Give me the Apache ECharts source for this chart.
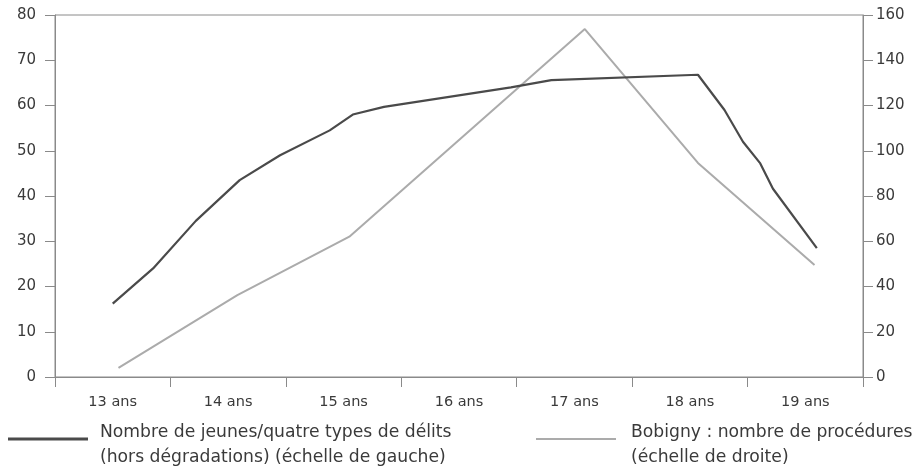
<!DOCTYPE html>
<html>
<head>
<meta charset="utf-8">
<script src="https://cdn.jsdelivr.net/npm/echarts@6/dist/echarts.min.js"></script>
<style>
html,body{margin:0;padding:0;background:#fff;}
#c{width:921px;height:467px;}
</style>
</head>
<body>
<div id="c"></div>
<script>
// Category labels
var categories = ['13 ans', '14 ans', '15 ans', '16 ans', '17 ans', '18 ans', '19 ans'];
// Left axis ticks (0..80) and right axis ticks (0..160)
var leftTicks = [0, 10, 20, 30, 40, 50, 60, 70, 80];
var rightTicks = [0, 20, 40, 60, 80, 100, 120, 140, 160];

// Series 1: Nombre de jeunes (left scale) — age position, value
var delitsAge = [13.00, 13.35, 13.72, 14.10, 14.45, 14.88, 15.08, 15.35, 16.45, 16.80, 18.07, 18.30, 18.46, 18.61, 18.72, 19.10];
var delitsVal = [16.2, 24.0, 34.5, 43.5, 49.0, 54.5, 58.0, 59.7, 64.0, 65.6, 66.8, 59.0, 52.0, 47.2, 41.6, 28.5];

// Series 2: Bobigny procédures (right scale)
var bobignyAge = [13.05, 14.08, 15.05, 17.09, 18.07, 19.08];
var bobignyVal = [4.0, 36.2, 62.0, 153.8, 94.6, 49.5];

var legendNames = ['Nombre de jeunes', 'Bobigny'];
var legendLines = {
  'Nombre de jeunes': ['Nombre de jeunes/quatre types de délits', '(hors dégradations) (échelle de gauche)'],
  'Bobigny': ['Bobigny : nombre de procédures', '(échelle de droite)']
};

function pairs(xs, ys) { return xs.map(function (x, i) { return [x, ys[i]]; }); }

var txt = '#3a3a3a';
var axisCol = '#8a8a8a';
var font = 'DejaVu Sans';

function legendFmt(name) {
  var l = legendLines[name];
  return '{e| }\n{t|' + l[0] + '}\n{t|' + l[1] + '}';
}
var legendRich = {
  e: {lineHeight: 13, fontSize: 2},
  t: {lineHeight: 25, fontSize: 17.2, fontFamily: font, color: txt}
};

var chart = echarts.init(document.getElementById('c'), null, {renderer: 'canvas'});
chart.setOption({
  animation: false,
  backgroundColor: '#fff',
  grid: {left: 55, right: 58, top: 15, bottom: 90, show: true, borderColor: axisCol, borderWidth: 1, backgroundColor: 'transparent'},
  xAxis: [
    {
      type: 'category', data: categories, boundaryGap: true, position: 'bottom',
      axisLine: {lineStyle: {color: axisCol, width: 1}},
      axisTick: {show: true, length: 10, alignWithLabel: false, interval: 0, lineStyle: {color: axisCol}},
      axisLabel: {color: txt, fontFamily: font, fontSize: 14.5, margin: 18, interval: 0},
      splitLine: {show: false}
    },
    {
      type: 'value', min: 12.5, max: 19.5, show: false
    }
  ],
  yAxis: [
    {
      type: 'value', position: 'left', min: 0, max: 80, interval: 10,
      axisLine: {show: true, lineStyle: {color: axisCol}},
      axisTick: {show: true, length: 10, lineStyle: {color: axisCol}},
      axisLabel: {color: txt, fontFamily: font, fontSize: 15, margin: 19,
        formatter: function (v) { return leftTicks.indexOf(v) >= 0 ? String(v) : ''; }},
      splitLine: {show: false}
    },
    {
      type: 'value', position: 'right', min: 0, max: 160, interval: 20,
      axisLine: {show: true, lineStyle: {color: axisCol}},
      axisTick: {show: true, length: 10, lineStyle: {color: axisCol}},
      axisLabel: {color: txt, fontFamily: font, fontSize: 15, margin: 13,
        formatter: function (v) { return rightTicks.indexOf(v) >= 0 ? String(v) : ''; }},
      splitLine: {show: false}
    }
  ],
  legend: [
    {
      data: [{name: legendNames[0], icon: 'rect'}],
      left: 8, top: 413, padding: 0,
      itemWidth: 80, itemHeight: 3,
      formatter: legendFmt,
      textStyle: {color: txt, fontFamily: font, fontSize: 17.2, padding: [0, 0, 0, 7], rich: legendRich}
    },
    {
      data: [{name: legendNames[1], icon: 'rect'}],
      left: 536, top: 413, padding: 0,
      itemWidth: 80, itemHeight: 2,
      formatter: legendFmt,
      textStyle: {color: txt, fontFamily: font, fontSize: 17.2, padding: [0, 0, 0, 10], rich: legendRich}
    }
  ],
  series: [
    {
      name: legendNames[0], type: 'line', xAxisIndex: 1, yAxisIndex: 0,
      data: pairs(delitsAge, delitsVal), showSymbol: false, symbol: 'none',
      lineStyle: {color: '#4a4a4a', width: 2.2}, itemStyle: {color: '#4a4a4a'}, z: 3
    },
    {
      name: legendNames[1], type: 'line', xAxisIndex: 1, yAxisIndex: 1,
      data: pairs(bobignyAge, bobignyVal), showSymbol: false, symbol: 'none',
      lineStyle: {color: '#ababab', width: 2}, itemStyle: {color: '#ababab'}, z: 2
    }
  ]
});
</script>
</body>
</html>
